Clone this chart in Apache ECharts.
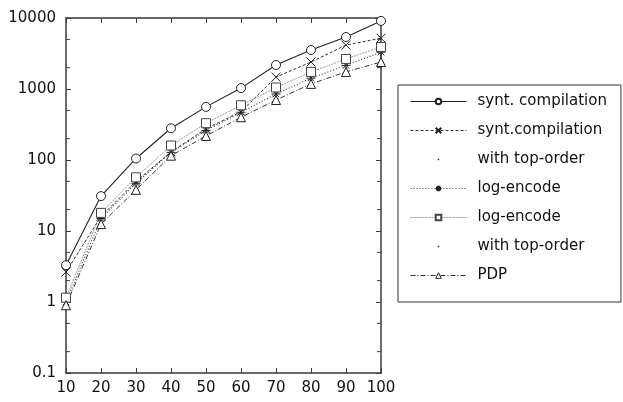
<!DOCTYPE html>
<html>
<head>
<meta charset="utf-8">
<script src="https://cdn.jsdelivr.net/npm/echarts@6/dist/echarts.min.js"></script>
<style>html,body{margin:0;padding:0;background:#fff}#c{width:623px;height:402px}</style>
</head>
<body>
<div id="c"></div>
<script>
const xValues = [10, 20, 30, 40, 50, 60, 70, 80, 90, 100];
const syntCompilation = [3.3, 31, 105, 280, 560, 1030, 2180, 3540, 5400, 9100];
const syntCompilationTopOrder = [2.65, 16, 50, 130, 275, 480, 1470, 2400, 4150, 5200];
const logEncode = [1.0, 15, 47, 128, 260, 470, 850, 1420, 2150, 3300];
const logEncodeTopOrder = [1.15, 18, 57, 160, 330, 590, 1050, 1740, 2650, 3900];
const pdp = [0.9, 12.5, 38, 115, 218, 400, 700, 1180, 1740, 2400];
const yTickLabels = ['0.1', '1', '10', '100', '1000', '10000'];
const minorTickValues = [0.2, 0.5, 2, 5, 20, 50, 200, 500, 2000, 5000];

const FONT = 'DejaVu Sans';
const AX = '#3a3a3a';
const pair = arr => xValues.map((x, i) => [x, arr[i]]);

const X_PATH = 'path://M0,0L10,10M10,0L0,10';
const STAR_PATH = 'path://M5,0L5,10M0,5L10,5M1.5,1.5L8.5,8.5M8.5,1.5L1.5,8.5';
const DOT_ICON = 'path://M0,0M56,10M27,4h2v2h-2z';

function lineSeries(name, data, symbol, size, lineStyle, itemStyle) {
  return {
    name, type: 'line', data: pair(data), symbol, symbolSize: size,
    lineStyle, itemStyle, showAllSymbol: true, z: 3, animation: false,
    emphasis: { disabled: true }
  };
}
function dotSeries(name) {
  return {
    name, type: 'line', data: [], symbol: 'circle', symbolSize: 2,
    lineStyle: { opacity: 0, width: 0 }, itemStyle: { color: '#222' }, animation: false
  };
}

const chart = echarts.init(document.getElementById('c'), null, { renderer: 'canvas' });
chart.setOption({
  animation: false,
  backgroundColor: '#fff',
  textStyle: { fontFamily: FONT },
  grid: { left: 66, right: 242, top: 18, bottom: 29 },
  xAxis: [
    { type: 'value', min: 10, max: 100, interval: 10, position: 'bottom',
      axisLine: { lineStyle: { color: AX, width: 1.5 } },
      axisTick: { inside: true, length: 5, lineStyle: { color: AX, width: 1 } },
      axisLabel: { color: '#111', fontSize: 15, fontFamily: FONT, margin: 8 },
      splitLine: { show: false } },
    { type: 'value', min: 10, max: 100, interval: 10, position: 'top',
      axisLine: { lineStyle: { color: AX, width: 1.5 } },
      axisTick: { inside: true, length: 5, lineStyle: { color: AX, width: 1 } },
      axisLabel: { show: false }, splitLine: { show: false } }
  ],
  yAxis: [
    { type: 'log', logBase: 10, min: 0.1, max: 10000, position: 'left',
      axisLine: { show: true, lineStyle: { color: AX, width: 1.5 } },
      axisTick: { show: true, inside: true, length: 5, lineStyle: { color: AX, width: 1 } },
      axisLabel: { color: '#111', fontSize: 15, fontFamily: FONT, margin: 10,
        formatter: v => { const k = Math.round(Math.log10(v)) + 1; return yTickLabels[k] !== undefined ? yTickLabels[k] : ''; } },
      splitLine: { show: false } },
    { type: 'log', logBase: 10, min: 0.1, max: 10000, position: 'right',
      axisLine: { show: true, lineStyle: { color: AX, width: 1.5 } },
      axisTick: { show: true, inside: true, length: 5, lineStyle: { color: AX, width: 1 } },
      axisLabel: { show: false }, splitLine: { show: false } }
  ],
  legend: {
    orient: 'vertical', left: 398, top: 85,
    itemWidth: 56, itemHeight: 7, itemGap: 14,
    padding: [9, 14, 19, 12],
    borderColor: '#333', borderWidth: 1, borderRadius: 0,
    selectedMode: false,
    lineStyle: { width: 1 },
    textStyle: { fontFamily: FONT, fontSize: 15, color: '#111', padding: [0, 0, 0, 6] },
    data: [
      { name: 'synt. compilation' },
      { name: 'synt.compilation' },
      { name: 'with top-order', icon: DOT_ICON, itemStyle: { color: '#222', borderWidth: 0 } },
      { name: 'log-encode' },
      { name: 'log-encode ' },
      { name: 'with top-order ', icon: DOT_ICON, itemStyle: { color: '#222', borderWidth: 0 } },
      { name: 'PDP', itemStyle: { color: '#fff', borderColor: '#222', borderWidth: 1 } }
    ]
  },
  series: [
    lineSeries('synt. compilation', syntCompilation, 'circle', 9,
      { color: '#222', width: 1.1, type: 'solid' },
      { color: '#fff', borderColor: '#222', borderWidth: 1 }),
    lineSeries('synt.compilation', syntCompilationTopOrder, X_PATH, 9,
      { color: '#333', width: 1, type: [3, 2] },
      { color: '#222', borderColor: '#222', borderWidth: 1 }),
    dotSeries('with top-order'),
    lineSeries('log-encode', logEncode, STAR_PATH, 9,
      { color: '#333', width: 1.1, type: [1, 2] },
      { color: '#222', borderColor: '#222', borderWidth: 1 }),
    lineSeries('log-encode ', logEncodeTopOrder, 'rect', 9,
      { color: '#999', width: 1, type: [2, 1] },
      { color: '#fff', borderColor: '#444', borderWidth: 1 }),
    dotSeries('with top-order '),
    lineSeries('PDP', pdp, 'triangle', 9,
      { color: '#333', width: 1, type: [5, 2, 1, 2] },
      { color: '#fff', borderColor: '#222', borderWidth: 1 }),
    {
      type: 'custom', silent: true, animation: false, clip: false, z: 4,
      data: minorTickValues.map(v => [v]),
      encode: { y: 0 },
      renderItem: (params, api) => {
        const v = api.value(0);
        const l = api.coord([10, v]);
        const r = api.coord([100, v]);
        return { type: 'group', children: [
          { type: 'line', shape: { x1: l[0], y1: l[1], x2: l[0] + 4, y2: l[1] }, style: { stroke: AX, lineWidth: 1 } },
          { type: 'line', shape: { x1: r[0], y1: r[1], x2: r[0] - 4, y2: r[1] }, style: { stroke: AX, lineWidth: 1 } }
        ] };
      }
    }
  ]
});
</script>
</body>
</html>
